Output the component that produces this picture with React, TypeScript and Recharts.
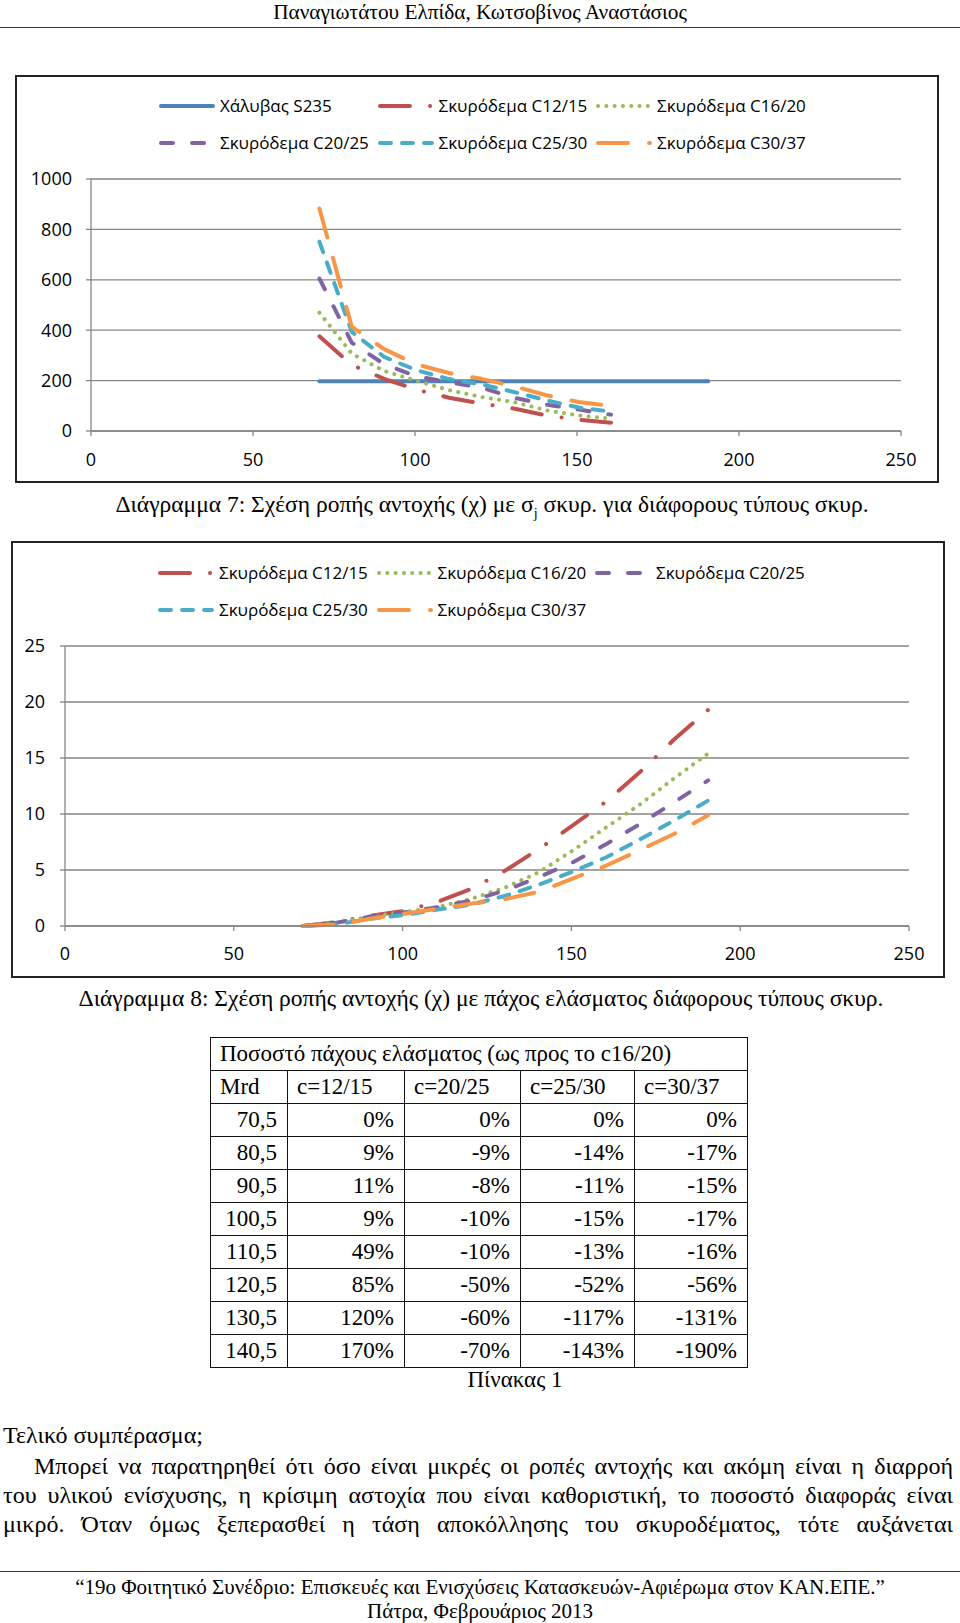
import { LineChart, Line, XAxis, YAxis, CartesianGrid, Legend } from 'recharts';

// Διάγραμμα 7 — x: Mrd, y: σ
const mrd7 = [70.5, 80.5, 90.5, 100.5, 110.5, 120.5, 130.5, 140.5, 150.5, 160.5, 170.5, 180.5, 190.5];
const steel7 = [197, 197, 197, 197, 197, 197, 197, 197, 197, 197, 197, 197, 197];
const c1215_7 = [376, 262, 207, 164, 132, 109, 89, 62, 45, 33];
const c1620_7 = [470, 307, 238, 199, 162, 135, 115, 82, 62, 49];
const c2025_7 = [605, 350, 265, 217, 193, 172, 132, 105, 85, 65];
const c2530_7 = [751, 393, 294, 241, 206, 185, 155, 122, 93, 77];
const c3037_7 = [883, 413, 325, 264, 230, 207, 178, 142, 115, 100];
const ticksX = [0, 50, 100, 150, 200, 250];
const ticksY7 = [0, 200, 400, 600, 800, 1000];

// Διάγραμμα 8 — x: Mrd, y: πάχος ελάσματος
const mrd8 = [70.5, 80.5, 90.5, 100.5, 110.5, 120.5, 130.5, 140.5, 150.5, 160.5, 170.5, 180.5, 190.5];
const c1215_8 = [0, 0.36, 0.92, 1.34, 2.17, 3.33, 4.97, 6.9, 9.0, 11.16, 13.8, 16.67, 19.3];
const c1620_8 = [0, 0.3, 0.86, 1.25, 1.7, 2.44, 3.45, 4.82, 6.76, 8.84, 10.9, 13.2, 15.4];
const c2025_8 = [0, 0.3, 0.85, 1.22, 1.68, 2.29, 3.18, 4.38, 5.7, 7.35, 9.14, 11.07, 13.0];
const c2530_8 = [0, 0.15, 0.65, 0.98, 1.46, 1.93, 2.7, 3.7, 4.87, 6.16, 7.77, 9.43, 11.2];
const c3037_8 = [0, 0.12, 0.65, 1.1, 1.55, 2.0, 2.41, 3.07, 4.26, 5.42, 6.8, 8.24, 9.88];
const ticksY8 = [0, 5, 10, 15, 20, 25];

// Πίνακας 1
const tableMrd = ['70,5', '80,5', '90,5', '100,5', '110,5', '120,5', '130,5', '140,5'];
const tableC1215 = ['0%', '9%', '11%', '9%', '49%', '85%', '120%', '170%'];
const tableC2025 = ['0%', '-9%', '-8%', '-10%', '-10%', '-50%', '-60%', '-70%'];
const tableC2530 = ['0%', '-14%', '-11%', '-15%', '-13%', '-52%', '-117%', '-143%'];
const tableC3037 = ['0%', '-17%', '-15%', '-17%', '-16%', '-56%', '-131%', '-190%'];

const SERIF = '"Liberation Serif", "Times New Roman", serif';
const SANS = '"Open Sans", sans-serif';
const GRID = '#868686';

const styles: Record<string, { name: string; color: string; dash?: string; width: number }> = {
  steel: { name: 'Χάλυβας S235', color: '#4F81BD', width: 4 },
  c1215: { name: 'Σκυρόδεμα C12/15', color: '#C0504D', dash: '30 20 0.1 20', width: 4 },
  c1620: { name: 'Σκυρόδεμα C16/20', color: '#9BBB59', dash: '0.1 8.2', width: 4 },
  c2025: { name: 'Σκυρόδεμα C20/25', color: '#8064A2', dash: '12 19', width: 4 },
  c2530: { name: 'Σκυρόδεμα C25/30', color: '#4BACC6', dash: '11 11', width: 4 },
  c3037: { name: 'Σκυρόδεμα C30/37', color: '#F79646', dash: '30 21', width: 4 },
};

const data7 = mrd7.map((x, i) => ({
  x,
  steel: steel7[i],
  c1215: c1215_7[i] ?? null,
  c1620: c1620_7[i] ?? null,
  c2025: c2025_7[i] ?? null,
  c2530: c2530_7[i] ?? null,
  c3037: c3037_7[i] ?? null,
}));

const data8 = mrd8.map((x, i) => ({
  x,
  c1215: c1215_8[i],
  c1620: c1620_8[i],
  c2025: c2025_8[i],
  c2530: c2530_8[i],
  c3037: c3037_8[i],
}));

const LegendBox = ({ keys }: { keys: string[] }) => (
  <div style={{ display: 'grid', gridTemplateColumns: 'repeat(3, 218.5px)' }}>
    {keys.map((k) => {
      const s = styles[k];
      return (
        <div key={k} style={{ display: 'flex', alignItems: 'center', height: 37 }}>
          <svg width={56} height={10} style={{ display: 'block' }}>
            <line
              x1={2}
              y1={5}
              x2={54}
              y2={5}
              stroke={s.color}
              strokeWidth={s.width}
              strokeDasharray={s.dash}
              strokeLinecap="round"
            />
          </svg>
          <span style={{ marginLeft: 5, fontFamily: SANS, fontSize: 17, color: '#000', whiteSpace: 'nowrap' }}>
            {s.name}
          </span>
        </div>
      );
    })}
  </div>
);

const tick = { fill: '#000', fontSize: 18, fontFamily: SANS };

const renderLines = (keys: string[]) =>
  keys.map((k) => (
    <Line
      key={k}
      dataKey={k}
      type="linear"
      stroke={styles[k].color}
      strokeWidth={styles[k].width}
      strokeDasharray={styles[k].dash}
      strokeLinecap="round"
      strokeLinejoin="round"
      dot={false}
      activeDot={false}
      isAnimationActive={false}
    />
  ));

const abs = (left: number, top: number, extra: React.CSSProperties = {}): React.CSSProperties => ({
  position: 'absolute',
  left,
  top,
  ...extra,
});

const td: React.CSSProperties = {
  border: '1.5px solid #111',
  padding: '0 10px 0 9px',
  height: 32,
  fontSize: 23,
  lineHeight: '22px',
  textAlign: 'right',
  whiteSpace: 'nowrap',
};

const para: React.CSSProperties = {
  fontSize: 24,
  lineHeight: '26px',
  textAlign: 'justify',
  textAlignLast: 'justify',
};

export default function App() {
  const keys7 = ['steel', 'c1215', 'c1620', 'c2025', 'c2530', 'c3037'];
  const keys8 = ['c1215', 'c1620', 'c2025', 'c2530', 'c3037'];
  return (
    <div
      style={{
        position: 'absolute',
        left: 0,
        top: 0,
        width: 960,
        height: 1623,
        background: '#fff',
        fontFamily: SERIF,
        color: '#000',
        overflow: 'hidden',
      }}
    >
      <div style={abs(0, 0, { width: 960, textAlign: 'center', fontSize: 21.3, lineHeight: '24px' })}>
        Παναγιωτάτου Ελπίδα, Κωτσοβίνος Αναστάσιος
      </div>
      <div style={abs(0, 27, { width: 960, borderTop: '1.5px solid #333' })} />

      {/* Διάγραμμα 7 */}
      <div style={abs(15, 75, { width: 924, height: 408, border: '2px solid #222', boxSizing: 'border-box' })} />
      <div style={abs(15, 75)}>
        <LineChart width={924} height={408} data={data7} margin={{ top: 104, right: 38, bottom: 0, left: 0 }}>
          <CartesianGrid vertical={false} stroke={GRID} strokeWidth={1.3} />
          <XAxis
            dataKey="x"
            type="number"
            domain={[0, 250]}
            ticks={ticksX}
            height={52}
            tickSize={5}
            tickMargin={17}
            tick={tick}
            axisLine={{ stroke: GRID, strokeWidth: 1.3 }}
            tickLine={{ stroke: GRID, strokeWidth: 1.3 }}
          />
          <YAxis
            domain={[0, 1000]}
            ticks={ticksY7}
            width={76}
            tickSize={5}
            tickMargin={14}
            tick={tick}
            axisLine={{ stroke: GRID, strokeWidth: 1.3 }}
            tickLine={{ stroke: GRID, strokeWidth: 1.3 }}
          />
          <Legend
            layout="horizontal"
            verticalAlign="middle"
            align="center"
            wrapperStyle={{ top: 12, left: 144, width: 660, height: 74 }}
            content={() => <LegendBox keys={keys7} />}
          />
          {renderLines(keys7)}
        </LineChart>
      </div>
      <div style={abs(42, 490, { width: 900, textAlign: 'center', fontSize: 23.5, lineHeight: '28px' })}>
        Διάγραμμα 7: Σχέση ροπής αντοχής (χ) με σ<sub style={{ fontSize: 14 }}>j</sub> σκυρ. για διάφορους τύπους σκυρ.
      </div>

      {/* Διάγραμμα 8 */}
      <div style={abs(11, 541, { width: 934, height: 437, border: '2px solid #222', boxSizing: 'border-box' })} />
      <div style={abs(11, 541)}>
        <LineChart width={934} height={437} data={data8} margin={{ top: 105, right: 36, bottom: 0, left: 0 }}>
          <CartesianGrid vertical={false} stroke={GRID} strokeWidth={1.3} />
          <XAxis
            dataKey="x"
            type="number"
            domain={[0, 250]}
            ticks={ticksX}
            height={52}
            tickSize={5}
            tickMargin={16}
            tick={tick}
            axisLine={{ stroke: GRID, strokeWidth: 1.3 }}
            tickLine={{ stroke: GRID, strokeWidth: 1.3 }}
          />
          <YAxis
            domain={[0, 25]}
            ticks={ticksY8}
            width={54}
            tickSize={5}
            tickMargin={15}
            tick={tick}
            axisLine={{ stroke: GRID, strokeWidth: 1.3 }}
            tickLine={{ stroke: GRID, strokeWidth: 1.3 }}
          />
          <Legend
            layout="horizontal"
            verticalAlign="middle"
            align="center"
            wrapperStyle={{ top: 13, left: 147, width: 660, height: 74 }}
            content={() => <LegendBox keys={keys8} />}
          />
          {renderLines(keys8)}
        </LineChart>
      </div>
      <div style={abs(31, 984, { width: 900, textAlign: 'center', fontSize: 23.5, lineHeight: '28px' })}>
        Διάγραμμα 8: Σχέση ροπής αντοχής (χ) με πάχος ελάσματος διάφορους τύπους σκυρ.
      </div>

      {/* Πίνακας 1 */}
      <table
        style={abs(210, 1037, {
          width: 537,
          borderCollapse: 'collapse',
          fontFamily: SERIF,
          tableLayout: 'fixed',
        })}
      >
        <colgroup>
          <col style={{ width: 77 }} />
          <col style={{ width: 117 }} />
          <col style={{ width: 116 }} />
          <col style={{ width: 114 }} />
          <col style={{ width: 113 }} />
        </colgroup>
        <tbody>
          <tr>
            <td colSpan={5} style={{ ...td, textAlign: 'left' }}>
              Ποσοστό πάχους ελάσματος (ως προς το c16/20)
            </td>
          </tr>
          <tr>
            {['Mrd', 'c=12/15', 'c=20/25', 'c=25/30', 'c=30/37'].map((h) => (
              <td key={h} style={{ ...td, textAlign: 'left' }}>
                {h}
              </td>
            ))}
          </tr>
          {tableMrd.map((m, i) => (
            <tr key={m}>
              <td style={td}>{m}</td>
              <td style={td}>{tableC1215[i]}</td>
              <td style={td}>{tableC2025[i]}</td>
              <td style={td}>{tableC2530[i]}</td>
              <td style={td}>{tableC3037[i]}</td>
            </tr>
          ))}
        </tbody>
      </table>
      <div style={abs(415, 1366, { width: 200, textAlign: 'center', fontSize: 23, lineHeight: '28px' })}>Πίνακας 1</div>

      {/* Κείμενο */}
      <div style={abs(3, 1422, { fontSize: 24, lineHeight: '26px' })}>Τελικό συμπέρασμα;</div>
      <div style={abs(34, 1453, { ...para, width: 919 })}>
        Μπορεί να παρατηρηθεί ότι όσο είναι μικρές οι ροπές αντοχής και ακόμη είναι η διαρροή
      </div>
      <div style={abs(3, 1482, { ...para, width: 950 })}>
        του υλικού ενίσχυσης, η κρίσιμη αστοχία που είναι καθοριστική, το ποσοστό διαφοράς είναι
      </div>
      <div style={abs(3, 1511, { ...para, width: 950 })}>
        μικρό. Όταν όμως ξεπερασθεί η τάση αποκόλλησης του σκυροδέματος, τότε αυξάνεται
      </div>

      <div style={abs(0, 1571, { width: 960, borderTop: '1.5px solid #333' })} />
      <div style={abs(0, 1575, { width: 960, textAlign: 'center', fontSize: 21, lineHeight: '24px' })}>
        “19ο Φοιτητικό Συνέδριο: Επισκευές και Ενισχύσεις Κατασκευών-Αφιέρωμα στον ΚΑΝ.ΕΠΕ.”
      </div>
      <div style={abs(0, 1599, { width: 960, textAlign: 'center', fontSize: 21, lineHeight: '24px' })}>
        Πάτρα, Φεβρουάριος 2013
      </div>
    </div>
  );
}
